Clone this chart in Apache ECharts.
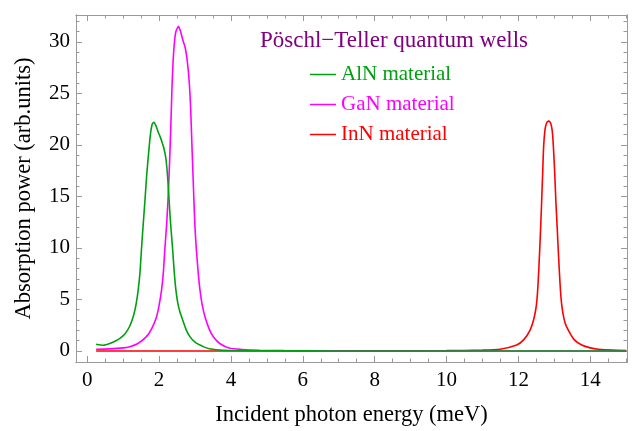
<!DOCTYPE html>
<html><head><meta charset="utf-8">
<script src="https://cdn.jsdelivr.net/npm/echarts@6/dist/echarts.min.js"></script>
<style>html,body{margin:0;padding:0;background:#fff}#c{width:632px;height:431px}</style>
</head><body><div id="c"></div>
<script>
const titleText = 'Pöschl\u2212Teller quantum wells';
const seriesNames = ['AlN material', 'GaN material', 'InN material'];
const xTicks = [0, 2, 4, 6, 8, 10, 12, 14];
const yTicks = [0, 5, 10, 15, 20, 25, 30];

const alnX = [0.25,0.45,0.63,0.8,0.92,1.05,1.17,1.28,1.36,1.42,1.47,1.51,1.56,1.61,1.66,1.71,1.76,1.81,1.86,1.92,1.97,2.03,2.08,2.14,2.19,2.23,2.26,2.30,2.33,2.38,2.42,2.47,2.52,2.58,2.64,2.75,2.86,3.0,3.23,3.4,3.6,4.0,5,7,10,15];
const alnY = [0.65,0.55,0.72,1.0,1.25,1.65,2.3,3.3,4.5,5.9,7.6,9.8,12.3,14.7,17.2,19.2,21.0,22.0,22.2,21.8,21.3,20.8,20.3,19.6,18.7,17.3,15.8,13.5,12.0,9.8,7.8,5.9,4.7,3.8,3.2,2.1,1.39,0.85,0.42,0.22,0.12,0.05,0.015,0,0,0];

const ganX = [0.25,0.6,1.0,1.19,1.4,1.65,1.8,1.93,2.0,2.07,2.12,2.16,2.21,2.25,2.29,2.33,2.36,2.39,2.43,2.47,2.54,2.6,2.66,2.73,2.79,2.84,2.88,2.92,2.97,3.0,3.04,3.09,3.14,3.2,3.28,3.4,3.51,3.7,3.97,4.3,4.8,5.5,7,10,15];
const ganY = [0.16,0.2,0.3,0.42,0.7,1.39,2.2,3.3,4.4,5.9,7.6,9.8,12.2,14.7,18,22,25.5,28.0,30.0,31.0,31.5,31.0,30.2,29.4,28.0,26.1,23.5,19.5,14.7,12.0,9.8,7.6,5.9,4.5,3.3,2.1,1.39,0.7,0.26,0.15,0.07,0.03,0.01,0,0];

const innX = [0.25,5,10,11,11.49,11.95,12.15,12.32,12.42,12.48,12.51,12.54,12.57,12.6,12.64,12.67,12.70,12.74,12.78,12.83,12.88,12.92,12.95,12.98,13.01,13.04,13.08,13.11,13.14,13.17,13.2,13.24,13.30,13.39,13.55,13.76,14.0,14.22,14.6,15];
const innY = [0,0,0.03,0.08,0.17,0.58,1.1,2.0,3.0,4.0,4.8,6.2,8.2,10.5,14.0,16.9,19.8,21.5,22.1,22.3,22.2,21.8,21.0,19.3,17.2,14.6,11.8,9.6,7.6,5.8,4.6,3.6,2.7,2.0,1.1,0.58,0.3,0.17,0.08,0.05];

const colors = ['#00a010', '#ff00ff', '#ff0000'];
const zip = (xs, ys) => xs.map((x, i) => [x, ys[i]]);

const xMin = -0.31, xMax = 15.02, yMin = -1.07, yMax = 32.6;
const xMinor = [], yMinor = [];
for (let v = 0; v <= 15; v += 0.5) if (v % 2 !== 0) xMinor.push(v);
for (let v = 0; v <= 32; v += 1) if (v % 5 !== 0) yMinor.push(v);

const serif = 'Liberation Serif';
const axisGray = '#999999';

function xAx(pos, vals, len, labels) {
  return {
    type: 'value', position: pos, min: xMin, max: xMax,
    axisLine: { show: true, onZero: false, lineStyle: { color: axisGray, width: 1 } },
    axisTick: { show: true, inside: true, length: len, customValues: vals, lineStyle: { color: axisGray } },
    axisLabel: labels ? { show: true, customValues: vals, fontFamily: serif, fontSize: 21, color: '#000', margin: 8 } : { show: false },
    splitLine: { show: false },
    name: labels ? 'Incident photon energy (meV)' : '',
    nameLocation: 'middle', nameGap: 42,
    nameTextStyle: { fontFamily: serif, fontSize: 22.5, color: '#000' }
  };
}
function yAx(pos, vals, len, labels) {
  return {
    type: 'value', position: pos, min: yMin, max: yMax,
    axisLine: { show: true, onZero: false, lineStyle: { color: axisGray, width: 1 } },
    axisTick: { show: true, inside: true, length: len, customValues: vals, lineStyle: { color: axisGray } },
    axisLabel: labels ? { show: true, customValues: vals, fontFamily: serif, fontSize: 21, color: '#000', margin: 6 } : { show: false },
    splitLine: { show: false },
    name: labels ? 'Absorption power (arb.units)' : '',
    nameLocation: 'middle', nameGap: 40,
    nameTextStyle: { fontFamily: serif, fontSize: 22.5, color: '#000' }
  };
}

const chart = echarts.init(document.getElementById('c'), null, { renderer: 'canvas' });
chart.setOption({
  animation: false,
  backgroundColor: '#fff',
  title: {
    text: titleText, left: 389, top: 24, textAlign: 'center',
    textStyle: { fontFamily: serif, fontSize: 23, fontWeight: 'normal', color: '#800080' }
  },
  legend: {
    orient: 'vertical', left: 305, top: 59, itemGap: 9, itemWidth: 26, itemHeight: 1.5,
    icon: 'rect',
    data: seriesNames.map((n, i) => ({ name: n, textStyle: { color: colors[i] }, itemStyle: { color: colors[i] } })),
    textStyle: { fontFamily: serif, fontSize: 21, lineHeight: 21 }
  },
  grid: { left: 76, right: 5, top: 15, bottom: 69, containLabel: false, outerBoundsMode: 'none' },
  xAxis: [
    xAx('bottom', xTicks, 6, true),
    xAx('bottom', xMinor, 3.5, false),
    xAx('top', xTicks, 6, false),
    xAx('top', xMinor, 3.5, false)
  ],
  yAxis: [
    yAx('left', yTicks, 6, true),
    yAx('left', yMinor, 3.5, false),
    yAx('right', yTicks, 6, false),
    yAx('right', yMinor, 3.5, false)
  ],
  series: [
    { name: seriesNames[0], type: 'line', data: zip(alnX, alnY) },
    { name: seriesNames[1], type: 'line', data: zip(ganX, ganY) },
    { name: seriesNames[2], type: 'line', data: zip(innX, innY) }
  ].map((s, i) => Object.assign(s, {
    xAxisIndex: 0, yAxisIndex: 0, symbol: 'none', smooth: 0.2, z: 3 - i,
    color: colors[i], lineStyle: { color: colors[i], width: 1.6 }
  }))
});
</script></body></html>
